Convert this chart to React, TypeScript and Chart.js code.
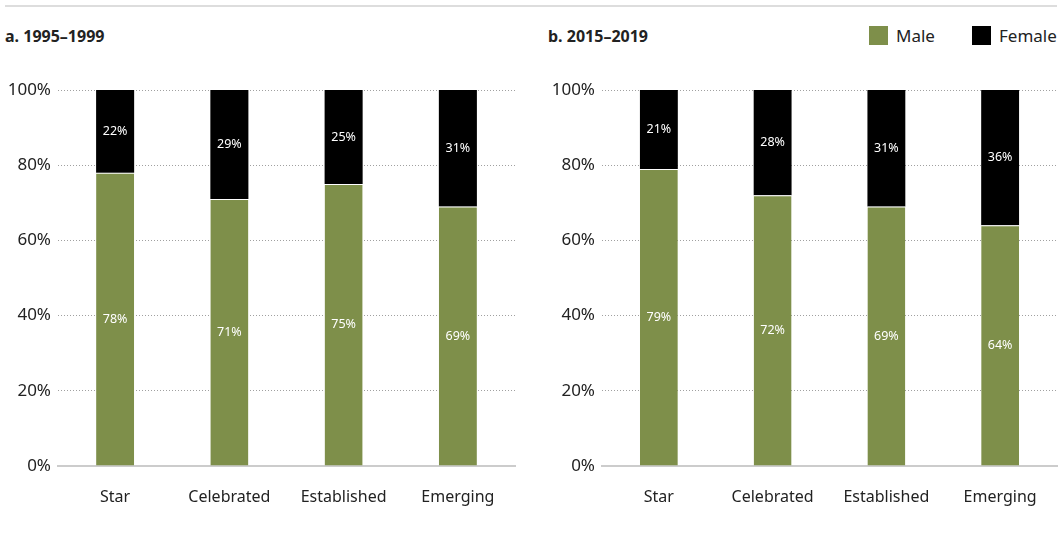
import React, { useEffect, useRef } from "react";
import { Chart, registerables } from "chart.js";

Chart.register(...registerables);

const categories = ["Star", "Celebrated", "Established", "Emerging"];
const male1995 = [78, 71, 75, 69];
const female1995 = [22, 29, 25, 31];
const male2015 = [79, 72, 69, 64];
const female2015 = [21, 28, 31, 36];
const yTicks = [0, 20, 40, 60, 80, 100];

const GREEN = "#7E8F4A";
const BLACK = "#000000";
const FONT = '"Noto Sans", sans-serif';

const labelPlugin = {
  id: "barLabels",
  afterDatasetsDraw(chart: any) {
    const ctx = chart.ctx;
    chart.data.datasets.forEach((ds: any, i: number) => {
      const meta = chart.getDatasetMeta(i);
      meta.data.forEach((bar: any, j: number) => {
        const v = ds.data[j];
        const { x, y, base } = bar.getProps(["x", "y", "base"], true);
        ctx.save();
        ctx.fillStyle = "#ffffff";
        ctx.font = `12.5px ${FONT}`;
        ctx.textAlign = "center";
        ctx.textBaseline = "middle";
        ctx.fillText(`${v}%`, x, (y + base) / 2);
        ctx.restore();
      });
    });
  },
};

function Panel(props: { male: number[]; female: number[]; yWidth: number; padRight: number }) {
  const ref = useRef<HTMLCanvasElement>(null);
  useEffect(() => {
    if (!ref.current) return;
    const chart = new Chart(ref.current, {
      type: "bar",
      data: {
        labels: categories,
        datasets: [
          {
            label: "Male",
            data: props.male,
            backgroundColor: GREEN,
            borderColor: "#ffffff",
            borderWidth: { top: 1, left: 0, right: 0, bottom: 0 },
            borderSkipped: false,
            categoryPercentage: 0.333,
            barPercentage: 1,
          },
          {
            label: "Female",
            data: props.female,
            backgroundColor: BLACK,
            borderWidth: 0,
            categoryPercentage: 0.333,
            barPercentage: 1,
          },
        ],
      },
      options: {
        animation: false,
        responsive: true,
        maintainAspectRatio: false,
        layout: { padding: { top: 20, right: props.padRight, bottom: 0, left: 0 } },
        plugins: {
          legend: { display: false },
          tooltip: { enabled: false },
        },
        scales: {
          x: {
            stacked: true,
            grid: { display: false },
            border: { display: true, color: "#cccccc", width: 2 },
            ticks: {
              padding: 14,
              color: "#222222",
              font: { family: FONT, size: 16 },
              maxRotation: 0,
            },
            afterFit: (scale: any) => {
              scale.height = 54;
            },
          },
          y: {
            stacked: true,
            min: 0,
            max: 100,
            afterBuildTicks: (scale: any) => {
              scale.ticks = yTicks.map((v) => ({ value: v }));
            },
            grid: {
              drawTicks: false,
              color: (c: any) => (c.tick && c.tick.value === 0 ? "rgba(0,0,0,0)" : "#a0a0a0"),
              lineWidth: 1,
            },
            border: { display: false, dash: [1, 2] },
            ticks: {
              padding: 7,
              color: "#222222",
              font: { family: FONT, size: 17 },
              callback: (v: any) => `${v}%`,
            },
            afterFit: (scale: any) => {
              scale.width = props.yWidth;
            },
          },
        },
      },
      plugins: [labelPlugin],
    });
    return () => chart.destroy();
  }, []);
  return <canvas ref={ref} />;
}

export default function App() {
  useEffect(() => {
    document.body.style.margin = "0";
  }, []);
  return (
    <div style={{ position: "relative", width: 1063, height: 555, background: "#fff", fontFamily: FONT, color: "#222" }}>
      <div style={{ position: "absolute", left: 5, top: 5, width: 1052, height: 2, background: "#dddddd" }} />
      <div style={{ position: "absolute", left: 5, top: 26, fontSize: 16, fontWeight: 700, lineHeight: "20px" }}>
        a. 1995–1999
      </div>
      <div style={{ position: "absolute", left: 548, top: 26, fontSize: 16, fontWeight: 700, lineHeight: "20px" }}>
        b. 2015–2019
      </div>
      <div style={{ position: "absolute", left: 869, top: 26, width: 19, height: 19, background: GREEN }} />
      <div style={{ position: "absolute", left: 896, top: 25, fontSize: 17, lineHeight: "22px" }}>Male</div>
      <div style={{ position: "absolute", left: 972, top: 26, width: 19, height: 19, background: BLACK }} />
      <div style={{ position: "absolute", left: 999, top: 25, fontSize: 17, lineHeight: "22px" }}>Female</div>
      <div style={{ position: "absolute", left: 0, top: 70, width: 521, height: 450 }}>
        <Panel male={male1995} female={female1995} yWidth={58} padRight={6} />
      </div>
      <div style={{ position: "absolute", left: 544, top: 70, width: 519, height: 450 }}>
        <Panel male={male2015} female={female2015} yWidth={58} padRight={6} />
      </div>
    </div>
  );
}
